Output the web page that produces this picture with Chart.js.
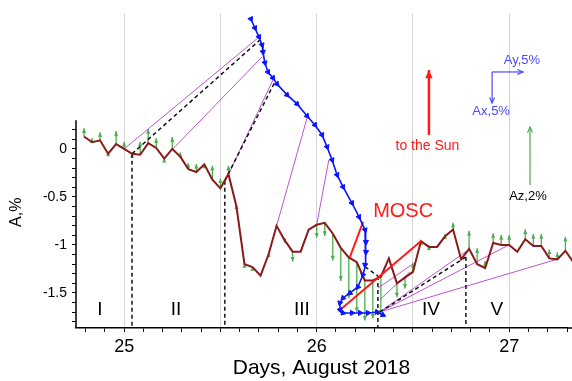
<!DOCTYPE html>
<html>
<head>
<meta charset="utf-8">
<script src="https://cdn.jsdelivr.net/npm/chart.js@4.4.1/dist/chart.umd.min.js"></script>
<style>
  html, body { margin: 0; padding: 0; background: #fff; }
  #wrap { width: 572px; height: 381px; position: relative; }
</style>
</head>
<body>
<div id="wrap"><canvas id="chart"></canvas></div>
<script>
// hourly samples, the first one at 19:00 UT on 24 August
const startHour = 19;
const aTotal = [0.13, 0.07, 0.09, -0.05, 0.05, 0.0, -0.05, -0.06, 0.06, 0.01,
    -0.10, 0.0, -0.08, -0.21, -0.24, -0.16, -0.32, -0.41, -0.26, -0.60,
    -1.20, -1.23, -1.32, -1.10, -0.80, -0.95, -1.07, -1.07, -0.84, -0.79,
    -0.77, -0.88, -1.03, -1.13, -1.18, -1.37, -1.37, -1.33, -1.14, -1.40,
    -1.34, -1.28, -0.96, -1.02, -1.02, -0.91, -0.84, -1.15, -1.04, -1.20,
    -1.24, -0.98, -1.00, -1.00, -1.07, -0.94, -1.01, -1.01, -1.14, -1.15,
    -1.06, -1.18];
// Az component, % (green arrows)
const azArrow = [0.28, 0.14, 0.28, 0.07, 0.45, 0.24, 0.02, 0.45, 0.48, 0.34,
    0.02, 0.41, 0.14, 0.21, 0.28, 0.02, 0.48, 0.34, 0.28, 0.07,
    0.03, 0.03, 0, 0.07, 0, -0.10, -0.34, 0, 0, -0.45,
    -0.45, -0.93, -1.14, -1.41, -1.72, -1.38, -1.31, -1.31, 0, -0.48,
    -0.38, 0.31, 0.02, 0.05, 0, 0.07, 0.24, 0, 0.62, 0.55,
    0.24, 0.34, 0.34, 0.34, 0, 0.34, 0.41, 0.41, 0.31, 0.24,
    0.48, 0];
const AZ_SCALE = 0.302; // axis units per 1 % of Az

// Ax/Ay hodograph (blue)
const blueT = [25.658, 25.679, 25.700, 25.716, 25.721, 25.731, 25.747, 25.773, 25.794, 25.846,
    25.898, 25.950, 25.991, 26.028, 26.054, 26.080, 26.106, 26.137, 26.183, 26.220,
    26.251, 26.256, 26.256, 26.251, 26.240, 26.214, 26.173, 26.137, 26.121, 26.121,
    26.137, 26.183, 26.225, 26.266, 26.313, 26.344];
const blueA = [1.354, 1.260, 1.167, 1.083, 1.010, 0.896, 0.802, 0.740, 0.677, 0.563,
    0.469, 0.344, 0.250, 0.146, 0.021, -0.115, -0.271, -0.396, -0.563, -0.708,
    -0.844, -0.969, -1.073, -1.208, -1.313, -1.438, -1.500, -1.552, -1.604, -1.677,
    -1.708, -1.708, -1.708, -1.708, -1.698, -1.729];

// connecting lines [t1, a1, t2, a2]
const magentaLinks = [
    [25.000, 0.00, 25.695, 1.156],
    [25.253, 0.00, 25.716, 0.958],
    [25.543, -0.26, 25.773, 0.719],
    [25.792, -0.80, 25.950, 0.323],
    [26.000, -0.79, 26.063, -0.115],
    [26.318, -1.45, 26.499, -1.198],
    [26.328, -1.57, 26.484, -1.281],
    [26.328, -1.698, 26.795, -1.042],
    [26.328, -1.698, 26.998, -1.000],
    [26.328, -1.698, 27.253, -1.146]
];
const dashedLinks = [
    [25.041, -0.05, 25.705, 1.135],
    [25.523, -0.33, 25.783, 0.698],
    [26.251, -1.229, 26.318, -1.323],
    [26.328, -1.698, 26.775, -1.125]
];
const dropT = [25.041, 25.523, 26.318, 26.775];
const dropTop = [-0.05, -0.33, -1.323, -1.125];
const moscLinks = [
    [26.173, -1.125, 26.241, -0.760],
    [26.121, -1.677, 26.542, -0.958]
];

const romanLabels = ['I', 'II', 'III', 'IV', 'V'];
const romanT = [24.874, 25.269, 25.923, 26.593, 26.936];
const xTickLabels = [25, 26, 27];
const yTickLabels = [0, -0.5, -1, -1.5];

const hourT = aTotal.map((_, i) => 24 + (startHour + i) / 24);
const FONT = 'Arial, "Liberation Sans", sans-serif';

function segment(l, color, dash, width) {
    return {
        data: [{ x: l[0], y: l[1] }, { x: l[2], y: l[3] }],
        showLine: true, borderColor: color, borderWidth: width,
        borderDash: dash, pointRadius: 0
    };
}

function arrow(ctx, x0, y0, x1, y1, head, open) {
    const ang = Math.atan2(y1 - y0, x1 - x0);
    ctx.beginPath();
    ctx.moveTo(x0, y0);
    ctx.lineTo(x1, y1);
    ctx.stroke();
    ctx.beginPath();
    ctx.moveTo(x1 - head * Math.cos(ang - 0.42), y1 - head * Math.sin(ang - 0.42));
    ctx.lineTo(x1, y1);
    ctx.lineTo(x1 - head * Math.cos(ang + 0.42), y1 - head * Math.sin(ang + 0.42));
    if (open) ctx.stroke(); else { ctx.closePath(); ctx.fill(); }
}

const overlay = {
    id: 'overlay',
    beforeDatasetsDraw(chart) {
        const { ctx, scales: { x, y }, chartArea } = chart;
        ctx.save();
        ctx.beginPath();
        ctx.rect(chartArea.left, 0, chart.width - chartArea.left, chartArea.bottom);
        ctx.clip();
        ctx.strokeStyle = ctx.fillStyle = '#4cae4c';
        ctx.lineWidth = 1.3;
        aTotal.forEach((a, i) => {
            if (!azArrow[i]) return;
            const px = x.getPixelForValue(hourT[i]);
            arrow(ctx, px, y.getPixelForValue(a), px, y.getPixelForValue(a + azArrow[i] * AZ_SCALE), 5);
        });
        ctx.restore();
    },
    afterDraw(chart) {
        const { ctx, scales: { x, y }, chartArea } = chart;
        ctx.save();
        ctx.strokeStyle = '#000';
        ctx.lineWidth = 1.5;
        // y axis line, only over the tick range
        ctx.beginPath();
        ctx.moveTo(chartArea.left, y.getPixelForValue(0.3));
        ctx.lineTo(chartArea.left, chartArea.bottom);
        // x axis runs on to the edge
        ctx.moveTo(chartArea.right, chartArea.bottom);
        ctx.lineTo(chart.width, chartArea.bottom);
        ctx.stroke();

        ctx.save();
        ctx.translate(17, y.getPixelForValue(-0.66));
        ctx.rotate(-Math.PI / 2);
        ctx.fillStyle = '#000';
        ctx.font = '16px ' + FONT;
        ctx.textAlign = 'center';
        ctx.textBaseline = 'middle';
        ctx.fillText('A,%', 0, 0);
        ctx.restore();

        ctx.textAlign = 'center';
        ctx.textBaseline = 'middle';
        ctx.fillStyle = '#000';
        ctx.font = '19px ' + FONT;
        romanLabels.forEach((r, i) => ctx.fillText(r, x.getPixelForValue(romanT[i]), y.getPixelForValue(-1.677)));

        ctx.fillStyle = '#ff1a1a';
        ctx.font = '20px ' + FONT;
        ctx.fillText('MOSC', x.getPixelForValue(26.449), y.getPixelForValue(-0.656));

        // to the Sun
        ctx.font = '14px ' + FONT;
        ctx.fillText('to the Sun', x.getPixelForValue(26.575), y.getPixelForValue(0.031));
        ctx.strokeStyle = ctx.fillStyle = '#ff1a1a';
        ctx.lineWidth = 2.5;
        const sx = x.getPixelForValue(26.583);
        arrow(ctx, sx, y.getPixelForValue(0.146), sx, y.getPixelForValue(0.823), 9);

        // Ax / Ay key
        ctx.strokeStyle = ctx.fillStyle = '#4a4aff';
        ctx.lineWidth = 1.2;
        const kx = x.getPixelForValue(26.911), ky = y.getPixelForValue(0.802);
        arrow(ctx, kx, ky, x.getPixelForValue(27.071), ky, 6, true);
        arrow(ctx, kx, ky, kx, y.getPixelForValue(0.479), 6, true);
        ctx.font = '13px ' + FONT;
        ctx.fillText('Ay,5%', x.getPixelForValue(27.066), y.getPixelForValue(0.917));
        ctx.fillText('Ax,5%', x.getPixelForValue(26.906), y.getPixelForValue(0.396));

        // Az key
        ctx.strokeStyle = '#4cae4c';
        ctx.lineWidth = 1.2;
        const zx = x.getPixelForValue(27.108);
        arrow(ctx, zx, y.getPixelForValue(-0.375), zx, y.getPixelForValue(0.229), 6, true);
        ctx.fillStyle = '#000';
        ctx.fillText('Az,2%', x.getPixelForValue(27.097), y.getPixelForValue(-0.49));
        ctx.restore();
    }
};

const datasets = [
    {
        data: blueT.map((t, i) => ({ x: t, y: blueA[i] })),
        showLine: true, borderColor: '#0a14ff', borderWidth: 1.6,
        pointStyle: 'triangle', pointRadius: 3, pointBackgroundColor: '#0a14ff',
        pointBorderColor: '#0a14ff', pointBorderWidth: 1,
        pointRotation: (c) => {
            const i = c.dataIndex;
            const xs = c.chart.scales.x, ys = c.chart.scales.y;
            const a = Math.max(i - 1, 0), b = Math.min(i + 1, blueT.length - 1);
            const dx = xs.getPixelForValue(blueT[b]) - xs.getPixelForValue(blueT[a]);
            const dy = ys.getPixelForValue(blueA[b]) - ys.getPixelForValue(blueA[a]);
            return Math.atan2(dy, dx) * 180 / Math.PI + 90;
        }
    },
    ...moscLinks.map(l => segment(l, '#ff1a1a', [], 2)),
    {
        data: hourT.map((t, i) => ({ x: t, y: aTotal[i] })),
        showLine: true, borderColor: '#8b1a1a', borderWidth: 2, pointRadius: 0,
        clip: { left: 0, top: 0, right: 8, bottom: 0 }
    },
    ...dashedLinks.map(l => segment(l, '#111', [4, 3], 1.5)),
    ...dropT.map((t, i) => segment([t, dropTop[i], t, -1.9], '#111', [4, 3], 1.5)),
    ...magentaLinks.map(l => segment(l, '#bb55cc', [], 1))
];

const isHalf = v => Math.abs(v * 2 - Math.round(v * 2)) < 1e-6;

new Chart(document.getElementById('chart'), {
    type: 'scatter',
    data: { datasets },
    options: {
        responsive: true,
        maintainAspectRatio: false,
        animation: false,
        layout: { padding: 0 },
        plugins: { legend: { display: false }, tooltip: { enabled: false } },
        scales: {
            x: {
                type: 'linear', min: 24.75, max: 27.3,
                afterFit: (s) => { s.height = 53; },
                afterBuildTicks: (s) => {
                    const t = [];
                    for (let k = 248; k <= 273; k++) t.push({ value: k / 10 });
                    s.ticks = t;
                },
                ticks: {
                    autoSkip: false, maxRotation: 0, padding: 4, color: '#000',
                    font: { size: 18, family: FONT },
                    callback: v => xTickLabels.includes(Math.round(v * 10) / 10) ? String(Math.round(v)) : ''
                },
                grid: {
                    color: c => (c.tick && isHalf(c.tick.value)) ? '#d6d6d6' : 'rgba(0,0,0,0)',
                    tickColor: '#000', tickLength: 4, lineWidth: 1
                },
                border: { display: true, color: '#000', width: 1.5 },
                title: {
                    display: true, text: 'Days, August 2018', color: '#000',
                    font: { size: 21, family: FONT }, padding: 0
                }
            },
            y: {
                type: 'linear', min: -1.865, max: 1.412,
                afterFit: (s) => { s.width = 76; },
                afterBuildTicks: (s) => {
                    const t = [];
                    for (let k = -18; k <= 3; k++) t.push({ value: k / 10 });
                    s.ticks = t;
                },
                ticks: {
                    autoSkip: false, padding: 5, color: '#000',
                    font: { size: 14, family: FONT },
                    callback: v => {
                        const r = Math.round(v * 10) / 10;
                        if (r === 0.3) return null;
                        return yTickLabels.includes(r) ? String(r) : '';
                    }
                },
                grid: { drawOnChartArea: false, tickColor: '#000', tickLength: 4 },
                border: { display: false }
            }
        }
    },
    plugins: [overlay]
});
</script>
</body>
</html>
